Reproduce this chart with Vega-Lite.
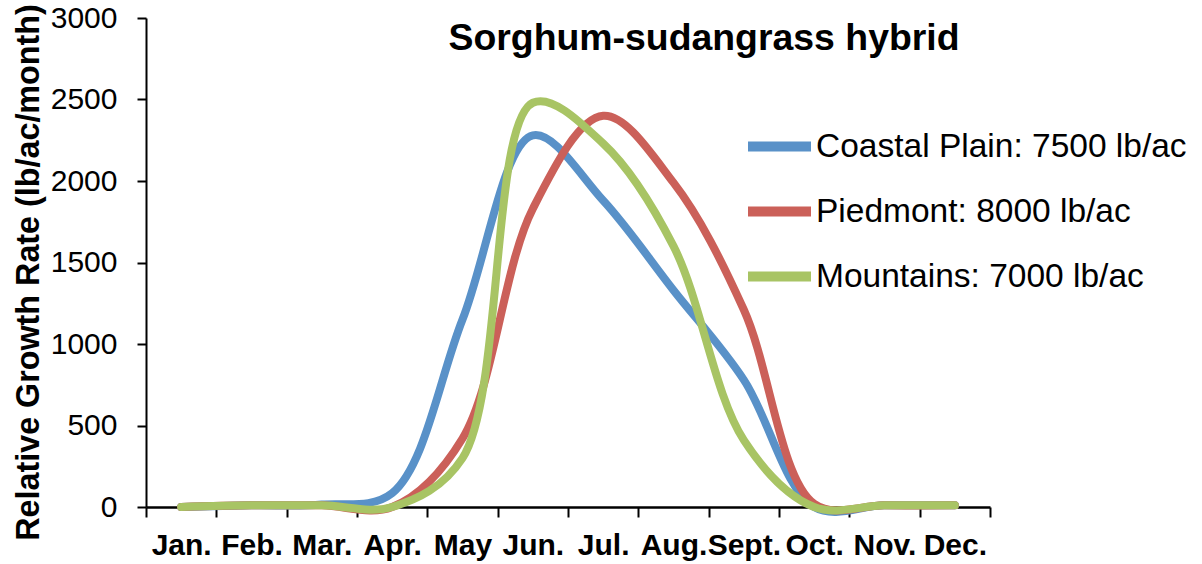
{
  "$schema": "https://vega.github.io/schema/vega-lite/v6.json",
  "width": 844,
  "height": 489,
  "autosize": {"type": "none"},
  "padding": {"left": 146, "top": 18, "right": 212, "bottom": 57},
  "background": "white",
  "title": {
    "text": "Sorghum-sudangrass hybrid",
    "font": "Liberation Sans",
    "fontSize": 37.4,
    "fontWeight": "bold",
    "color": "black",
    "anchor": "middle",
    "frame": "group",
    "baseline": "alphabetic",
    "dx": 136,
    "offset": -84
  },
  "data": {
    "values": [
      {"month": "Jan.", "region": "Coastal Plain: 7500 lb/ac", "value": 0},
      {"month": "Feb.", "region": "Coastal Plain: 7500 lb/ac", "value": 10},
      {"month": "Mar.", "region": "Coastal Plain: 7500 lb/ac", "value": 15},
      {"month": "Apr.", "region": "Coastal Plain: 7500 lb/ac", "value": 85},
      {"month": "May", "region": "Coastal Plain: 7500 lb/ac", "value": 1150},
      {"month": "Jun.", "region": "Coastal Plain: 7500 lb/ac", "value": 2280},
      {"month": "Jul.", "region": "Coastal Plain: 7500 lb/ac", "value": 1880},
      {"month": "Aug.", "region": "Coastal Plain: 7500 lb/ac", "value": 1330},
      {"month": "Sept.", "region": "Coastal Plain: 7500 lb/ac", "value": 780},
      {"month": "Oct.", "region": "Coastal Plain: 7500 lb/ac", "value": 0},
      {"month": "Nov.", "region": "Coastal Plain: 7500 lb/ac", "value": 10},
      {"month": "Dec.", "region": "Coastal Plain: 7500 lb/ac", "value": 10},
      {"month": "Jan.", "region": "Piedmont: 8000 lb/ac", "value": 0},
      {"month": "Feb.", "region": "Piedmont: 8000 lb/ac", "value": 10},
      {"month": "Mar.", "region": "Piedmont: 8000 lb/ac", "value": 10},
      {"month": "Apr.", "region": "Piedmont: 8000 lb/ac", "value": 0},
      {"month": "May", "region": "Piedmont: 8000 lb/ac", "value": 420},
      {"month": "Jun.", "region": "Piedmont: 8000 lb/ac", "value": 1830},
      {"month": "Jul.", "region": "Piedmont: 8000 lb/ac", "value": 2400},
      {"month": "Aug.", "region": "Piedmont: 8000 lb/ac", "value": 1990},
      {"month": "Sept.", "region": "Piedmont: 8000 lb/ac", "value": 1210},
      {"month": "Oct.", "region": "Piedmont: 8000 lb/ac", "value": 20},
      {"month": "Nov.", "region": "Piedmont: 8000 lb/ac", "value": 10},
      {"month": "Dec.", "region": "Piedmont: 8000 lb/ac", "value": 10},
      {"month": "Jan.", "region": "Mountains: 7000 lb/ac", "value": 0},
      {"month": "Feb.", "region": "Mountains: 7000 lb/ac", "value": 10},
      {"month": "Mar.", "region": "Mountains: 7000 lb/ac", "value": 10},
      {"month": "Apr.", "region": "Mountains: 7000 lb/ac", "value": 0},
      {"month": "May", "region": "Mountains: 7000 lb/ac", "value": 300},
      {"month": "Jun.", "region": "Mountains: 7000 lb/ac", "value": 2480},
      {"month": "Jul.", "region": "Mountains: 7000 lb/ac", "value": 2230},
      {"month": "Aug.", "region": "Mountains: 7000 lb/ac", "value": 1600},
      {"month": "Sept.", "region": "Mountains: 7000 lb/ac", "value": 410},
      {"month": "Oct.", "region": "Mountains: 7000 lb/ac", "value": 0},
      {"month": "Nov.", "region": "Mountains: 7000 lb/ac", "value": 10},
      {"month": "Dec.", "region": "Mountains: 7000 lb/ac", "value": 10}
    ]
  },
  "mark": {
    "type": "line",
    "interpolate": "catmull-rom",
    "strokeWidth": 8,
    "strokeCap": "round",
    "strokeJoin": "round"
  },
  "encoding": {
    "x": {
      "field": "month",
      "type": "ordinal",
      "bandPosition": 0.5,
      "sort": ["Jan.", "Feb.", "Mar.", "Apr.", "May", "Jun.", "Jul.", "Aug.", "Sept.", "Oct.", "Nov.", "Dec."],
      "scale": {"type": "band", "paddingInner": 0, "paddingOuter": 0},
      "axis": {
        "title": null,
        "labelAngle": 0,
        "tickBand": "extent",
        "labelFont": "Liberation Sans",
        "labelFontSize": 30,
        "labelFontWeight": "bold",
        "labelColor": "black",
        "labelPadding": 13,
        "labelOverlap": false,
        "labelLimit": 200,
        "domainColor": "black",
        "domainWidth": 2.5,
        "tickColor": "black",
        "tickWidth": 2,
        "tickSize": 10,
        "grid": false
      }
    },
    "y": {
      "field": "value",
      "type": "quantitative",
      "scale": {"domain": [0, 3000], "nice": false},
      "axis": {
        "title": "Relative Growth Rate (lb/ac/month)",
        "titleFont": "Liberation Sans",
        "titleFontSize": 32.3,
        "titleFontWeight": "bold",
        "titleColor": "black",
        "titlePadding": 5,
        "titleY": 254,
        "values": [0, 500, 1000, 1500, 2000, 2500, 3000],
        "format": "d",
        "labelFont": "Liberation Sans",
        "labelFontSize": 30,
        "labelColor": "black",
        "labelPadding": 20,
        "labelOverlap": false,
        "domainColor": "black",
        "domainWidth": 2,
        "tickColor": "black",
        "tickWidth": 2,
        "tickSize": 9,
        "grid": false
      }
    },
    "color": {
      "field": "region",
      "type": "nominal",
      "sort": ["Coastal Plain: 7500 lb/ac", "Piedmont: 8000 lb/ac", "Mountains: 7000 lb/ac"],
      "scale": {
        "domain": ["Coastal Plain: 7500 lb/ac", "Piedmont: 8000 lb/ac", "Mountains: 7000 lb/ac"],
        "range": ["#5991C8", "#CB6059", "#A8C464"]
      },
      "legend": {
        "title": null,
        "orient": "none",
        "legendX": 597,
        "legendY": 92,
        "padding": 0,
        "symbolType": "stroke",
        "symbolSize": 3969,
        "symbolStrokeWidth": 10,
        "rowPadding": 8,
        "labelFont": "Liberation Sans",
        "labelFontSize": 33.5,
        "labelColor": "black",
        "labelOffset": 0,
        "labelLimit": 600
      }
    }
  },
  "config": {
    "view": {"stroke": null}
  }
}
